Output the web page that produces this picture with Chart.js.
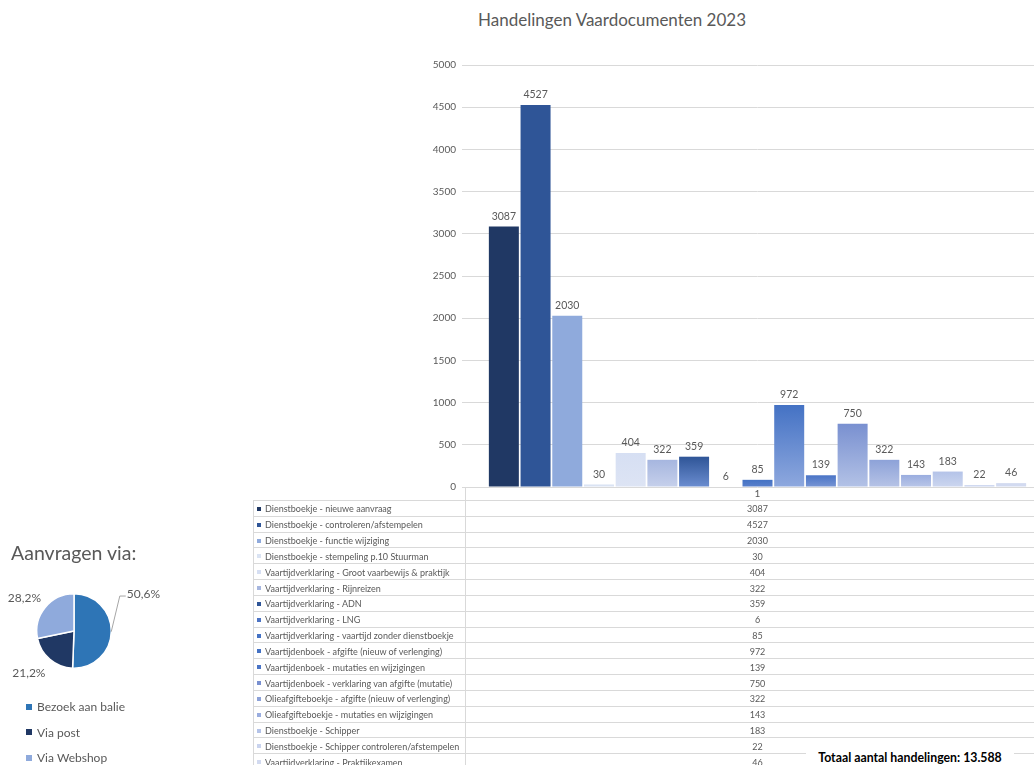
<!DOCTYPE html>
<html>
<head>
<meta charset="utf-8">
<title>Handelingen Vaardocumenten 2023</title>
<script src="https://cdn.jsdelivr.net/npm/chart.js@4.4.1/dist/chart.umd.min.js"></script>
<style>
  html, body { margin: 0; padding: 0; overflow: hidden; }
  body { width: 1034px; height: 765px; position: relative; background: #fff; font-family: Lato, "Open Sans", sans-serif; color: #595959; }
  #barTitle { position: absolute; left: 478px; top: 9px; font-size: 17px; white-space: nowrap; }
  #barWrap { position: absolute; left: 422px; top: 0; width: 631px; height: 512px; }
  #dataTable { position: absolute; left: 0; top: 0; width: 1034px; height: 765px; pointer-events: none; }
  .row { position: absolute; left: 254px; width: 800px; border-top: 1px solid #d9d9d9; box-sizing: border-box; font-size: 9px; background: #fff; }
  .row .name { position: absolute; left: 3px; top: 0; white-space: nowrap; display: flex; align-items: center; height: 100%; }
  .row .key { display: inline-block; width: 4px; height: 4px; margin-right: 4px; }
  .row .val { position: absolute; top: 0; height: 100%; display: flex; align-items: center; transform: translateX(-50%); }
  #tableLeft { position: absolute; left: 253px; top: 500px; width: 1px; height: 265px; background: #d9d9d9; z-index: 2; }
  #tableDiv { position: absolute; left: 465px; top: 487px; width: 1px; height: 278px; background: #d9d9d9; z-index: 2; }
  #pieTitle { position: absolute; left: 11px; top: 541px; font-size: 19.5px; white-space: nowrap; }
  #pieWrap { position: absolute; left: 0; top: 580px; width: 170px; height: 100px; }
  #pieLegend { position: absolute; left: 26px; top: 694px; font-size: 12px; }
  #pieLegend div { height: 25.5px; display: flex; align-items: center; }
  #pieLegend span.sq { display: inline-block; width: 6px; height: 6px; margin-right: 5px; }
  #total { position: absolute; left: 806px; top: 749px; width: 208px; height: 18px; background: #fff; color: #000; font-weight: bold; font-size: 12.3px; text-align: center; line-height: 18px; white-space: nowrap; z-index: 3; }
</style>
</head>
<body>
<div id="barTitle">Handelingen Vaardocumenten 2023</div>
<div id="barWrap"><canvas id="barChart"></canvas></div>
<div id="dataTable"><div id="tableLeft"></div><div id="tableDiv"></div></div>
<div id="pieTitle">Aanvragen via:</div>
<div id="pieWrap"><canvas id="pieChart"></canvas></div>
<div id="pieLegend"></div>
<div id="total">Totaal aantal handelingen: 13.588</div>

<script>
// Data
const categories = ["1"];
const seriesNames = [
  "Dienstboekje - nieuwe aanvraag",
  "Dienstboekje - controleren/afstempelen",
  "Dienstboekje - functie wijziging",
  "Dienstboekje - stempeling p.10 Stuurman",
  "Vaartijdverklaring - Groot vaarbewijs & praktijk",
  "Vaartijdverklaring - Rijnreizen",
  "Vaartijdverklaring - ADN",
  "Vaartijdverklaring - LNG",
  "Vaartijdverklaring - vaartijd zonder dienstboekje",
  "Vaartijdenboek - afgifte (nieuw of verlenging)",
  "Vaartijdenboek - mutaties en wijzigingen",
  "Vaartijdenboek - verklaring van afgifte (mutatie)",
  "Olieafgifteboekje - afgifte (nieuw of verlenging)",
  "Olieafgifteboekje - mutaties en wijzigingen",
  "Dienstboekje - Schipper",
  "Dienstboekje - Schipper controleren/afstempelen",
  "Vaartijdverklaring - Praktijkexamen"
];
const seriesValues = [3087, 4527, 2030, 30, 404, 322, 359, 6, 85, 972, 139, 750, 322, 143, 183, 22, 46];
const yMin = 0, yMax = 5000, yStep = 500;

const pieLabels = ["Bezoek aan balie", "Via post", "Via Webshop"];
const pieValues = [50.6, 21.2, 28.2];

// Kleuren (boven, onder) per reeks
const barColors = [
  ["#203864", "#203864"],
  ["#2f5597", "#2f5597"],
  ["#8faadc", "#8faadc"],
  ["#dae3f3", "#dae3f3"],
  ["#d6dff3", "#dde4f4"],
  ["#a6b6df", "#c6d0eb"],
  ["#2f5597", "#6b8dd0"],
  ["#4d74c4", "#4d74c4"],
  ["#4472c4", "#5a80cb"],
  ["#4472c4", "#8ea8de"],
  ["#4a74c6", "#7895d4"],
  ["#7990d0", "#b3c2e6"],
  ["#8da2d8", "#b6c3e6"],
  ["#9aaddf", "#b9c6e8"],
  ["#b4c3e8", "#ccd6ef"],
  ["#c9d3ee", "#c9d3ee"],
  ["#d2daf0", "#d2daf0"]
];
const pieColors = ["#2e75b6", "#203864", "#8faadc"];

Chart.defaults.font.family = "Lato, 'Open Sans', sans-serif";
Chart.defaults.color = "#595959";

function barGradient(i) {
  return (c) => {
    const [top, bottom] = barColors[i];
    const chart = c.chart;
    if (!chart.chartArea || !c.parsed || top === bottom) return top;
    const y = chart.scales.y;
    const y0 = y.getPixelForValue(c.parsed.y);
    const y1 = y.getPixelForValue(0);
    if (Math.abs(y1 - y0) < 1) return top;
    const g = chart.ctx.createLinearGradient(0, y0, 0, y1);
    g.addColorStop(0, top);
    g.addColorStop(1, bottom);
    return g;
  };
}

// waarden boven de staven
const barValueLabels = {
  id: "barValueLabels",
  afterDatasetsDraw(chart) {
    const ctx = chart.ctx;
    ctx.save();
    ctx.font = "10.5px Lato, 'Open Sans', sans-serif";
    ctx.fillStyle = "#595959";
    ctx.textAlign = "center";
    ctx.textBaseline = "bottom";
    chart.data.datasets.forEach((ds, i) => {
      const meta = chart.getDatasetMeta(i);
      meta.data.forEach((bar, j) => {
        ctx.fillText(String(ds.data[j]), bar.x, bar.y - 5);
      });
    });
    ctx.restore();
  }
};

const barChart = new Chart(document.getElementById("barChart"), {
  type: "bar",
  data: {
    labels: categories,
    datasets: seriesNames.map((name, i) => ({
      label: name,
      data: [seriesValues[i]],
      backgroundColor: barGradient(i),
      categoryPercentage: 0.912,
      barPercentage: 0.946,
      borderWidth: 0
    }))
  },
  options: {
    responsive: true,
    maintainAspectRatio: false,
    animation: false,
    events: [],
    layout: { padding: { top: 65, left: 0, right: 0, bottom: 0 } },
    plugins: {
      legend: { display: false },
      tooltip: { enabled: false },
      title: { display: false }
    },
    scales: {
      x: {
        grid: { display: false, drawTicks: false },
        border: { display: false },
        ticks: { font: { size: 10 }, color: "#595959", padding: 1 },
        afterFit(scale) { scale.height = 25; }
      },
      y: {
        min: yMin,
        max: yMax,
        grid: { color: "#d9d9d9", drawTicks: false },
        border: { display: false },
        ticks: { stepSize: yStep, font: { size: 10 }, color: "#595959", padding: 6, callback: (v) => String(v) },
        afterFit(scale) { scale.width = 40; }
      }
    }
  },
  plugins: [barValueLabels]
});

// Gegevenstabel onder de grafiek
function buildTable() {
  const wrap = document.getElementById("dataTable");
  const offsetLeft = document.getElementById("barWrap").offsetLeft;
  const valX = barChart.scales.x.getPixelForValue(0) + offsetLeft - 254;
  const rowTop = 500, rowH = 15.83;
  seriesNames.forEach((name, i) => {
    const row = document.createElement("div");
    row.className = "row";
    row.style.top = (rowTop + i * rowH) + "px";
    row.style.height = (i === seriesNames.length - 1 ? 30 : rowH) + "px";
    row.innerHTML = `
      <div class="name" style="height:${rowH}px"><span class="key" style="background:${barColors[i][0]}"></span>${name}</div>
      <div class="val" style="left:${valX}px;height:${rowH}px">${seriesValues[i]}</div>
    `;
    wrap.appendChild(row);
  });
}
buildTable();

// Percentages naast de taartpunten
const pieValueLabels = {
  id: "pieValueLabels",
  afterDatasetsDraw(chart, args, opts) {
    const ctx = chart.ctx;
    const meta = chart.getDatasetMeta(0);
    ctx.save();
    ctx.font = "12px Lato, 'Open Sans', sans-serif";
    ctx.fillStyle = "#595959";
    ctx.strokeStyle = "#a6a6a6";
    ctx.lineWidth = 1;
    ctx.textBaseline = "middle";
    meta.data.forEach((arc, i) => {
      const p = arc.getProps(["x", "y", "startAngle", "endAngle", "outerRadius"], true);
      const mid = (p.startAngle + p.endAngle) / 2;
      const pos = opts.placement[i];
      const ang = pos.angle != null ? pos.angle * Math.PI / 180 : mid;
      const lx = p.x + Math.cos(ang) * p.outerRadius * pos.dist;
      const ly = p.y + Math.sin(ang) * p.outerRadius * pos.dist;
      const txt = pieValues[i].toFixed(1).replace(".", ",") + "%";
      if (pos.leader) {
        ctx.beginPath();
        ctx.moveTo(p.x + Math.cos(mid) * p.outerRadius, p.y + Math.sin(mid) * p.outerRadius);
        ctx.lineTo(lx - 7, ly + 2);
        ctx.lineTo(lx - 1, ly + 2);
        ctx.stroke();
      }
      ctx.textAlign = Math.cos(ang) >= 0 ? "left" : "right";
      ctx.fillText(txt, lx, ly);
    });
    ctx.restore();
  }
};

new Chart(document.getElementById("pieChart"), {
  type: "pie",
  data: {
    labels: pieLabels,
    datasets: [{
      data: pieValues,
      backgroundColor: pieColors,
      borderColor: "#ffffff",
      borderWidth: 1.5
    }]
  },
  options: {
    responsive: true,
    maintainAspectRatio: false,
    animation: false,
    events: [],
    layout: { padding: { left: 36, right: 58, top: 13, bottom: 11 } },
    plugins: {
      legend: { display: false },
      tooltip: { enabled: false },
      pieValueLabels: {
        placement: [
          { angle: -35, dist: 1.73, leader: true },
          { angle: 124, dist: 1.37 },
          { angle: -135, dist: 1.25 }
        ]
      }
    }
  },
  plugins: [pieValueLabels]
});

// Legenda taartdiagram
const legend = document.getElementById("pieLegend");
pieLabels.forEach((lbl, i) => {
  const d = document.createElement("div");
  d.innerHTML = `<span class="sq" style="background:${pieColors[i]}"></span>${lbl}`;
  legend.appendChild(d);
});
</script>
</body>
</html>
